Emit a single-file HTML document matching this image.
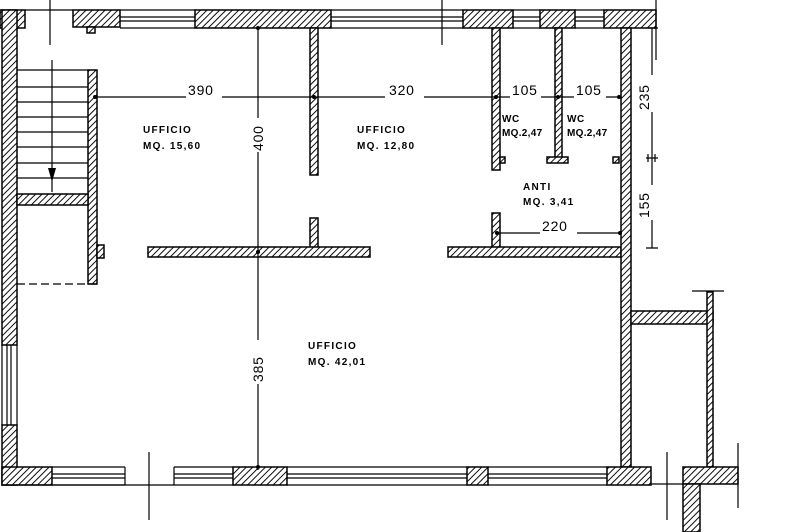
<!DOCTYPE html>
<html><head><meta charset="utf-8"><style>
html,body{margin:0;padding:0;background:#fff;}
svg{display:block;}
text{font-family:"Liberation Sans",sans-serif;fill:#000;}
.r{font-size:10px;font-weight:bold;letter-spacing:1.3px;}
.d{font-size:14px;letter-spacing:0.8px;}
</style></head><body>
<svg width="796" height="532" viewBox="0 0 796 532" xmlns="http://www.w3.org/2000/svg">
<defs>
<pattern id="h" width="4.5" height="4.5" patternUnits="userSpaceOnUse" patternTransform="rotate(45)">
<rect width="4.5" height="4.5" fill="#fff"/>
<line x1="0" y1="0" x2="0" y2="4.5" stroke="#000" stroke-width="1.9"/>
</pattern>
</defs>
<g stroke="#000" stroke-width="1.5" fill="url(#h)">
<rect x="0" y="10" width="25" height="18"/>
<rect x="73" y="10" width="47" height="17"/>
<rect x="87" y="27" width="8" height="6"/>
<rect x="195" y="10" width="136" height="18"/>
<rect x="463" y="10" width="50" height="18"/>
<rect x="540" y="10" width="35" height="18"/>
<rect x="604" y="10" width="52" height="18"/>
<rect x="2" y="10" width="15" height="335"/>
<rect x="2" y="425" width="15" height="60"/>
<rect x="88" y="70" width="9" height="214"/>
<rect x="17" y="194" width="71" height="11"/>
<rect x="97" y="245" width="7" height="13"/>
<rect x="310" y="28" width="8" height="147"/>
<rect x="310" y="218" width="8" height="30"/>
<rect x="148" y="247" width="222" height="10"/>
<rect x="492" y="28" width="8" height="142"/>
<rect x="500" y="157" width="5" height="6"/>
<rect x="555" y="28" width="7" height="130"/>
<rect x="547" y="157" width="21" height="6"/>
<rect x="613" y="157" width="6" height="6"/>
<rect x="492" y="213" width="8" height="35"/>
<rect x="448" y="247" width="173" height="10"/>
<rect x="621" y="28" width="10" height="439"/>
<rect x="631" y="311" width="82" height="13"/>
<rect x="707" y="292" width="6" height="175"/>
<rect x="2" y="467" width="50" height="18"/>
<rect x="233" y="467" width="54" height="18"/>
<rect x="467" y="467" width="21" height="18"/>
<rect x="607" y="467" width="44" height="18"/>
<rect x="683" y="467" width="55" height="17"/>
<rect x="683" y="484" width="17" height="48"/>
</g>
<g stroke="#000" stroke-width="1.2" fill="none">
<path d="M120 10H195M120 17H195M120 21H195M120 28H195"/>
<path d="M331 10H463M331 17H463M331 21H463M331 28H463"/>
<path d="M25 10H73"/>
<path d="M513 10H540M513 17H540M513 21H540M513 28H540"/>
<path d="M575 10H604M575 17H604M575 21H604M575 28H604"/>
<path d="M2 345V425M7 345V425M11 345V425M17 345V425"/>
<path d="M52 467H125M52 474H125M52 478H125M52 485H125M125 467V485"/>
<path d="M174 467H233M174 474H233M174 478H233M174 485H233M174 467V485"/>
<path d="M287 467H467M287 474H467M287 478H467M287 485H467"/>
<path d="M488 467H607M488 474H607M488 478H607M488 485H607"/>
<path d="M2 485H174M651 484H683"/>
<path d="M17 70H88M17 87H88M17 102H88M17 117H88M17 132H88M17 147H88M17 163H88M17 178H88"/>
<path d="M52 60V192"/>
<path d="M17 284H97" stroke-dasharray="8,4"/>
<path d="M50 0V45M442 0V45M656 0V60M149 452V520M667 452V520M738 443V508"/>
<path d="M692 291H724"/>
<path d="M95 97H186M222 97H385M424 97H510M541 97H574M606 97H620"/>
<path d="M258 28V118M258 152V340M258 384V470"/>
<path d="M652 28V75M652 112V185M652 220V248"/>
<path d="M497 233H540M577 233H620"/>
<path d="M648 28H658M646 158H658M646 248H658M648 154V162M655 154V162"/>
</g>
<polygon points="48,168 56,168 52,182" fill="#000"/>
<g fill="#000">
<circle cx="95" cy="97" r="2"/><circle cx="314" cy="97" r="2"/><circle cx="496" cy="97" r="2"/><circle cx="558" cy="97" r="2"/><circle cx="619" cy="97" r="2"/>
<circle cx="258" cy="28" r="2"/><circle cx="258" cy="252" r="2"/><circle cx="258" cy="467" r="2"/>
<circle cx="497" cy="233" r="2"/><circle cx="620" cy="233" r="2"/>
</g>
<text class="d" x="188" y="95">390</text>
<text class="d" x="389" y="95">320</text>
<text class="d" x="512" y="95">105</text>
<text class="d" x="576" y="95">105</text>
<text class="d" x="542" y="231">220</text>
<text class="d" transform="translate(263,151) rotate(-90)">400</text>
<text class="d" transform="translate(263,382) rotate(-90)">385</text>
<text class="d" transform="translate(649,110) rotate(-90)">235</text>
<text class="d" transform="translate(649,218) rotate(-90)">155</text>
<text class="r" x="143" y="133">UFFICIO</text>
<text class="r" x="143" y="149">MQ. 15,60</text>
<text class="r" x="357" y="133">UFFICIO</text>
<text class="r" x="357" y="149">MQ. 12,80</text>
<text class="r" x="502" y="122" style="letter-spacing:0.5px">WC</text>
<text class="r" x="502" y="136" style="letter-spacing:0.3px">MQ.2,47</text>
<text class="r" x="567" y="122" style="letter-spacing:0.5px">WC</text>
<text class="r" x="567" y="136" style="letter-spacing:0.3px">MQ.2,47</text>
<text class="r" x="523" y="190">ANTI</text>
<text class="r" x="523" y="205">MQ. 3,41</text>
<text class="r" x="308" y="349">UFFICIO</text>
<text class="r" x="308" y="365">MQ. 42,01</text>
</svg>
</body></html>
